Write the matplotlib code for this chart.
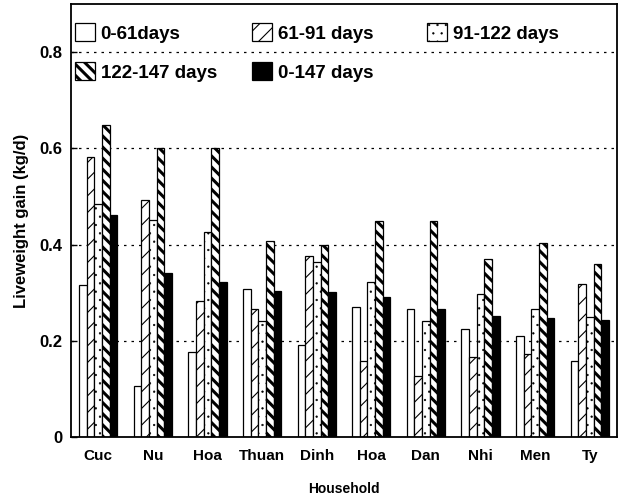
import matplotlib
matplotlib.use("Agg")
import matplotlib.pyplot as plt
import numpy as np

households = ["Cuc", "Nu", "Hoa", "Thuan", "Dinh", "Hoa", "Dan", "Nhi", "Men", "Ty"]
series_labels = ["0-61days", "61-91 days", "91-122 days", "122-147 days", "0-147 days"]
d0_61 = [0.315, 0.106, 0.176, 0.308, 0.192, 0.270, 0.267, 0.224, 0.209, 0.158]
d61_91 = [0.583, 0.492, 0.283, 0.267, 0.376, 0.158, 0.126, 0.167, 0.173, 0.318]
d91_122 = [0.484, 0.451, 0.426, 0.242, 0.364, 0.322, 0.242, 0.297, 0.267, 0.249]
d122_147 = [0.649, 0.600, 0.600, 0.408, 0.399, 0.449, 0.449, 0.370, 0.403, 0.360]
d0_147 = [0.461, 0.341, 0.323, 0.303, 0.301, 0.290, 0.265, 0.252, 0.247, 0.244]
yticks = [0, 0.2, 0.4, 0.6, 0.8]
ytick_labels = ["0", "0.2", "0.4", "0.6", "0.8"]

series = [d0_61, d61_91, d91_122, d122_147, d0_147]
styles = [
    dict(facecolor="white", hatch=None),
    dict(facecolor="white", hatch="//"),
    dict(facecolor="white", hatch=".."),
    dict(facecolor="white", hatch="\\\\\\"),
    dict(facecolor="black", hatch=None),
]
hatch_lw = [1.0, 0.8, 0.4, 2.2, 1.0]

plt.rcParams["font.family"] = ["Liberation Sans", "DejaVu Sans"]
plt.rcParams["hatch.linewidth"] = 1.0

fig = plt.figure(figsize=(6.19, 4.98), dpi=100)
ax = fig.add_axes([0.1147, 0.1225, 0.8821, 0.8695])

x = np.arange(len(households))
w = 0.14
handles = []
for i, (vals, st) in enumerate(zip(series, styles)):
    bars = ax.bar(x + (i - 2) * w, vals, width=w, facecolor=st["facecolor"],
                  edgecolor="black", linewidth=0.9, hatch=st["hatch"],
                  label=series_labels[i])
    handles.append(bars)
    for b in bars:
        try:
            b.set_hatch_linewidth(hatch_lw[i])
        except Exception:
            pass

ax.set_xlim(-0.5, len(households) - 0.5)
ax.set_ylim(0, 0.9)
ax.set_yticks(yticks)
ax.set_yticklabels(ytick_labels, fontsize=12, fontweight="bold")
ax.set_xticks(x)
ax.set_xticklabels(households, fontsize=11, fontweight="bold")
ax.tick_params(axis="x", length=0, pad=9)
ax.tick_params(axis="y", direction="in", length=4, width=1, pad=6)
for yv in yticks[1:]:
    ax.axhline(yv, color="black", linestyle=(0, (2, 4)), linewidth=0.9, zorder=0)
for s in ax.spines.values():
    s.set_linewidth(1.3)

ax.set_ylabel("Liveweight gain (kg/d)", fontsize=12, fontweight="bold", labelpad=8)
ax.set_xlabel("Household", fontsize=10, fontweight="bold", labelpad=13)

columns = [[0, 3], [1, 4], [2]]
col_x = [0.0073, 0.3315, 0.652]
legs = []
for cols, cx in zip(columns, col_x):
    leg = ax.legend([handles[k] for k in cols], [series_labels[k] for k in cols],
                    loc="upper left", bbox_to_anchor=(cx, 0.955), ncol=1,
                    frameon=False, prop={"weight": "bold", "size": 13.5},
                    handlelength=1.07, handleheight=1.07, handletextpad=0.3,
                    borderaxespad=0, borderpad=0, labelspacing=1.05)
    for k, h in zip(cols, leg.legend_handles):
        try:
            h.set_hatch_linewidth(hatch_lw[k])
        except Exception:
            pass
    legs.append(leg)
for leg in legs[:-1]:
    ax.add_artist(leg)

fig.savefig("out.png", dpi=100)
